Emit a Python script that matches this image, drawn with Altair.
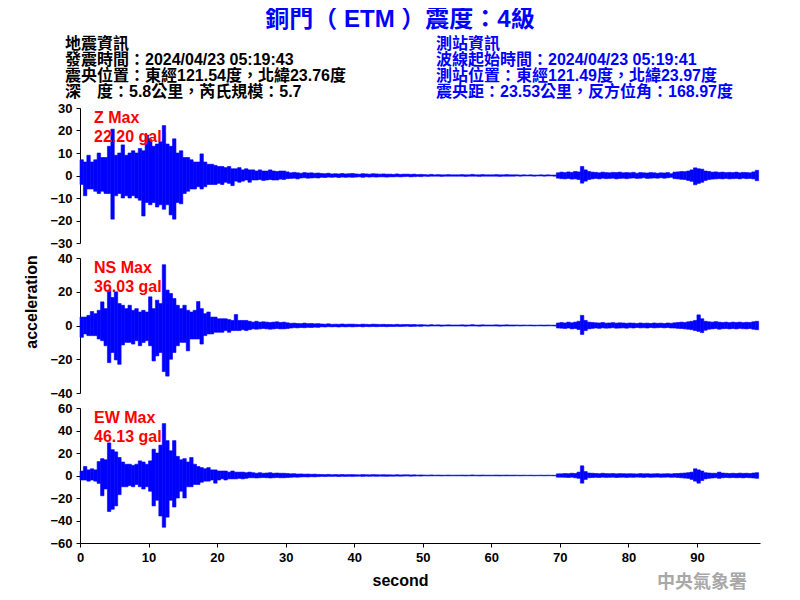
import altair as alt
import pandas as pd

# ---------------- data ----------------
# Envelope of each trace in 0.5 s bins (t = 0.0, 0.5, ... 98.5 s): upper and lower peak in gal
Z_UP = [7, 6, 9, 6, 7, 10, 8, 8, 13, 20.6,
        9, 10, 13.6, 9, 10, 11, 10, 12, 11, 18,
        16, 13, 14, 15, 22.2, 14, 13, 16.3, 10, 11,
        8, 8, 7, 6, 6, 9.6, 6, 5, 5, 4.5,
        4, 4, 3.5, 4, 3, 3, 3.5, 2.5, 3, 2.5,
        2.5, 2, 2.5, 2, 2, 2.5, 2, 1.8, 2, 2,
        1.6, 1.2, 1.4, 1.2, 1, 1.3, 1.1, 1.2, 1, 1.1,
        0.9, 0.8, 1, 0.7, 0.8, 0.7, 0.9, 0.7, 0.8, 0.9,
        0.7, 0.6, 0.8, 0.7, 0.6, 0.8, 0.7, 0.6, 0.7, 0.6,
        0.6, 0.5, 0.7, 0.5, 0.6, 0.6, 0.5, 0.6, 0.4, 0.5,
        0.4, 0.3, 0.5, 0.3, 0.4, 0.3, 0.3, 0.4, 0.3, 0.3,
        0.3, 0.4, 0.3, 0.3, 0.5, 0.3, 0.3, 0.4, 0.3, 0.3,
        0.3, 0.4, 0.3, 0.3, 0.4, 0.3, 0.3, 0.3, 0.2, 0.3,
        0.2, 0.3, 0.2, 0.2, 0.3, 0.2, 0.3, 0.2, 0.2, 1.2,
        1.5, 1.3, 1.6, 1.4, 1.8, 1.6, 4, 2.5, 1.8, 1.5,
        1.4, 1.2, 1.5, 1.3, 1.2, 1.4, 1.3, 1.5, 1.2, 1.3,
        1.2, 1.4, 1, 1.3, 1.2, 1.1, 1.3, 1.2, 1, 1.2,
        1.1, 1.3, 0.8, 1.5, 1.6, 1.8, 1.7, 2, 2.5, 3.4,
        3, 2.8, 2, 1.8, 1.5, 1.6, 1.4, 1.5, 1.3, 1.4,
        1.3, 1.5, 1.2, 1.4, 1.3, 1.2, 1.6, 2.3]
Z_LO = [-4, -9, -6, -6, -7, -8, -7, -8, -8, -19.4,
        -9, -8, -10, -9, -10, -9, -10, -11, -18, -12,
        -13, -12, -14, -13, -15, -13, -17.5, -19.4, -12, -12.6,
        -8, -7, -6, -6, -5, -6, -5, -4, -4, -4,
        -3.5, -4, -3, -3.5, -4.5, -2.5, -3, -2.5, -2, -3,
        -2, -2, -1.8, -2.2, -2, -1.8, -2, -2, -1.6, -1.8,
        -1.4, -1.3, -1.2, -1.5, -1.1, -1, -1.2, -1.1, -1, -1.1,
        -0.8, -0.9, -0.7, -0.8, -0.7, -0.9, -0.7, -0.8, -0.7, -0.8,
        -0.7, -0.6, -0.8, -0.6, -0.7, -0.6, -0.7, -0.6, -0.6, -0.7,
        -0.6, -0.6, -0.5, -0.6, -0.5, -0.4, -0.6, -0.5, -0.4, -0.5,
        -0.3, -0.4, -0.3, -0.3, -0.3, -0.4, -0.3, -0.3, -0.3, -0.3,
        -0.3, -0.3, -0.4, -0.3, -0.3, -0.3, -0.4, -0.3, -0.3, -0.3,
        -0.3, -0.3, -0.4, -0.3, -0.3, -0.3, -0.3, -0.2, -0.3, -0.2,
        -0.2, -0.2, -0.3, -0.2, -0.2, -0.3, -0.2, -0.2, -0.3, -1.2,
        -1.4, -1.5, -1.3, -1.6, -1.5, -1.8, -3.4, -2.5, -1.8, -1.5,
        -1.3, -1.5, -1.2, -1.4, -1.3, -1.2, -1.5, -1.3, -1.2, -1.4,
        -1.2, -1.1, -1.3, -1.2, -1, -1.3, -1.2, -1.1, -1.2, -1,
        -1.2, -1, -0.8, -1.4, -1.5, -1.7, -1.8, -2.2, -2.6, -4.1,
        -3.5, -3, -2.2, -1.8, -1.6, -1.5, -1.4, -1.5, -1.3, -1.5,
        -1.4, -1.3, -1.5, -1.2, -1.4, -1.3, -1.5, -2.3]

NS_UP = [5, 5, 6, 8.3, 7, 9, 14, 10, 21, 16.6,
         20, 13, 12, 10, 12, 9, 10, 8, 9, 8,
         17, 10, 15, 13, 36.03, 21, 19, 16, 12, 10,
         12, 9, 8, 9, 14.2, 10, 7, 8, 5, 5,
         4, 4, 4, 3.5, 3, 6.5, 3, 3, 3, 2.5,
         2, 2.5, 2, 2.2, 2, 1.8, 2, 2.2, 1.8, 2,
         1.6, 1.3, 1.4, 1.2, 1.1, 1.4, 1.1, 1.2, 1, 1.1,
         0.9, 0.8, 1, 0.7, 0.8, 0.7, 0.9, 0.7, 0.8, 0.8,
         0.7, 0.6, 0.8, 0.7, 0.6, 0.8, 0.7, 0.6, 0.7, 0.6,
         0.6, 0.5, 0.7, 0.5, 0.6, 0.6, 0.5, 0.6, 0.4, 0.5,
         0.4, 0.3, 0.5, 0.3, 0.4, 0.3, 0.3, 0.4, 0.3, 0.3,
         0.3, 0.4, 0.3, 0.3, 0.5, 0.3, 0.3, 0.4, 0.3, 0.3,
         0.3, 0.4, 0.3, 0.3, 0.4, 0.3, 0.3, 0.3, 0.2, 0.3,
         0.2, 0.3, 0.2, 0.2, 0.3, 0.2, 0.3, 0.2, 0.2, 1.5,
         1.8, 1.5, 2, 1.6, 2, 2.5, 6, 3, 2, 1.8,
         1.6, 1.5, 1.8, 1.4, 1.5, 1.7, 1.4, 1.6, 1.5, 1.3,
         1.5, 1.4, 1.2, 1.5, 1.3, 1.4, 1.2, 1.5, 1.3, 1.4,
         1.2, 1.5, 1.3, 1.6, 1.8, 2, 1.8, 2.2, 2.5, 3,
         6.3, 4, 2.5, 2.2, 2, 2.3, 2, 1.8, 2, 1.7,
         2, 1.8, 2, 1.7, 1.9, 1.8, 2.2, 2.5]
NS_LO = [-7, -5, -6, -6, -6, -8, -9, -12, -22, -16,
         -20.4, -23, -11.5, -10, -10, -11, -9, -12, -10, -9,
         -12, -21, -18, -16, -27.3, -30, -20, -16, -12, -10,
         -10, -15, -8, -8, -8, -11, -6, -5, -5, -4,
         -4, -4, -3, -4, -3, -3, -3, -2.5, -3, -2.5,
         -2, -2.2, -2, -1.8, -2, -2.2, -2, -1.8, -2, -2,
         -1.8, -1.5, -1.3, -1.4, -1.2, -1.3, -1.1, -1.2, -1, -1.1,
         -0.8, -0.9, -0.7, -0.8, -0.7, -0.9, -0.7, -0.8, -0.7, -0.8,
         -0.7, -0.6, -0.8, -0.6, -0.7, -0.6, -0.7, -0.6, -0.6, -0.7,
         -0.6, -0.6, -0.5, -0.6, -0.5, -0.4, -0.6, -0.5, -0.4, -0.5,
         -0.3, -0.4, -0.3, -0.3, -0.3, -0.4, -0.3, -0.3, -0.3, -0.3,
         -0.3, -0.3, -0.4, -0.3, -0.3, -0.3, -0.4, -0.3, -0.3, -0.3,
         -0.3, -0.3, -0.4, -0.3, -0.3, -0.3, -0.3, -0.2, -0.3, -0.2,
         -0.2, -0.2, -0.3, -0.2, -0.2, -0.3, -0.2, -0.2, -0.3, -1.5,
         -1.6, -1.8, -1.5, -2, -1.8, -2.4, -5.3, -3, -2, -1.7,
         -1.5, -1.7, -1.4, -1.6, -1.5, -1.3, -1.6, -1.5, -1.4, -1.6,
         -1.3, -1.5, -1.2, -1.4, -1.3, -1.5, -1.2, -1.4, -1.3, -1.2,
         -1.4, -1.2, -1.5, -1.5, -1.7, -1.8, -2, -2.2, -2.5, -3,
         -3.5, -4.2, -2.8, -2.2, -2, -1.8, -2.2, -1.9, -1.8, -2,
         -1.8, -2, -1.7, -1.9, -2, -1.8, -2.2, -2.5]

EW_UP = [4, 8, 5, 6, 5, 12.4, 15, 14, 29, 23,
         21, 16, 12, 10, 10, 9, 10, 13, 12, 10,
         13, 23.4, 20, 27, 46.13, 31, 22, 31, 17, 14,
         15, 12, 16, 10, 8, 7, 6, 7, 5, 5,
         4, 4, 4, 3, 4, 3, 3, 3, 2.5, 3,
         2.5, 2, 2.5, 2, 2.2, 2.5, 2, 2.2, 2, 2,
         1.8, 1.5, 1.6, 1.3, 1.4, 1.2, 1.3, 1.1, 1.2, 1,
         0.9, 0.8, 1, 0.7, 0.8, 0.7, 0.9, 0.7, 0.8, 0.8,
         0.7, 0.6, 0.8, 0.7, 0.6, 0.8, 0.7, 0.6, 0.7, 0.6,
         0.6, 0.5, 0.7, 0.5, 0.6, 0.6, 0.5, 0.6, 0.4, 0.5,
         0.4, 0.3, 0.5, 0.3, 0.4, 0.3, 0.3, 0.4, 0.3, 0.3,
         0.3, 0.4, 0.3, 0.3, 0.5, 0.3, 0.3, 0.4, 0.3, 0.3,
         0.3, 0.4, 0.3, 0.3, 0.4, 0.3, 0.3, 0.3, 0.2, 0.3,
         0.2, 0.3, 0.2, 0.2, 0.3, 0.2, 0.3, 0.2, 0.2, 1.5,
         1.5, 1.8, 1.6, 2, 1.8, 3, 8.6, 3.5, 2.2, 2,
         1.8, 1.6, 2, 1.7, 1.6, 1.8, 1.5, 1.7, 1.6, 1.5,
         1.6, 1.5, 1.4, 1.7, 1.5, 1.6, 1.4, 1.5, 1.6, 1.4,
         1.5, 1.6, 1.4, 1.7, 1.8, 2, 2.2, 2.5, 3, 6,
         5, 4, 2.5, 2.2, 2, 2, 3, 2.2, 2, 1.8,
         2, 1.8, 2.1, 1.9, 2, 1.8, 2.2, 2.5]
EW_LO = [-4, -4, -5, -4, -5, -7, -18, -12, -32, -30,
         -27, -17, -10, -10, -9, -10, -8, -10, -12, -10,
         -14, -27, -22, -36, -46, -37, -22, -28, -20, -14,
         -20, -10, -10, -8, -8, -6, -5, -5, -4, -6.8,
         -4, -3, -4, -3, -3, -3, -2.5, -3, -2.5, -2,
         -2, -2.2, -2, -1.8, -2, -2.2, -2, -1.8, -2, -2,
         -1.8, -1.6, -1.4, -1.5, -1.3, -1.2, -1.3, -1.1, -1.2, -1,
         -0.8, -0.9, -0.7, -0.8, -0.7, -0.9, -0.7, -0.8, -0.7, -0.8,
         -0.7, -0.6, -0.8, -0.6, -0.7, -0.6, -0.7, -0.6, -0.6, -0.7,
         -0.6, -0.6, -0.5, -0.6, -0.5, -0.4, -0.6, -0.5, -0.4, -0.5,
         -0.3, -0.4, -0.3, -0.3, -0.3, -0.4, -0.3, -0.3, -0.3, -0.3,
         -0.3, -0.3, -0.4, -0.3, -0.3, -0.3, -0.4, -0.3, -0.3, -0.3,
         -0.3, -0.3, -0.4, -0.3, -0.3, -0.3, -0.3, -0.2, -0.3, -0.2,
         -0.2, -0.2, -0.3, -0.2, -0.2, -0.3, -0.2, -0.2, -0.3, -1.5,
         -1.5, -1.6, -1.8, -1.5, -2, -2.5, -6.8, -3.5, -2, -1.8,
         -1.6, -1.8, -1.5, -1.7, -1.6, -1.5, -1.8, -1.6, -1.5, -1.7,
         -1.5, -1.6, -1.4, -1.5, -1.7, -1.4, -1.6, -1.5, -1.4, -1.6,
         -1.5, -1.4, -1.6, -1.5, -1.8, -2, -2.3, -2.5, -3.5, -5,
         -6.8, -4.5, -3, -2.5, -2.2, -2, -2.5, -2, -1.8, -2,
         -1.8, -2, -1.9, -2.1, -1.8, -2, -2.2, -2.5]

BIN_SECONDS = 0.5

Z_TICKS = [-30, -20, -10, 0, 10, 20, 30]
NS_TICKS = [-40, -20, 0, 20, 40]
EW_TICKS = [-60, -40, -20, 0, 20, 40, 60]
X_TICKS = [0, 10, 20, 30, 40, 50, 60, 70, 80, 90]

TITLE = "銅門（ ETM ）震度：4級"
INFO_LEFT = ["地震資訊",
             "發震時間：2024/04/23 05:19:43",
             "震央位置：東經121.54度，北緯23.76度",
             "深　度：5.8公里，芮氏規模：5.7"]
INFO_RIGHT = ["測站資訊",
              "波線起始時間：2024/04/23 05:19:41",
              "測站位置：東經121.49度，北緯23.97度",
              "震央距：23.53公里，反方位角：168.97度"]
MAX_LABELS = [("Z Max", "22.20 gal"), ("NS Max", "36.03 gal"), ("EW Max", "46.13 gal")]
Y_TITLE = "acceleration"
X_TITLE = "second"
AGENCY = "中央氣象署"

# ---------------- layout ----------------
W, H = 680, 435
PANEL_H = 135
PANEL_STEP = 150
FONT = "Liberation Sans, Noto Sans CJK TC"
BLUE = "#0000ff"


def trace(up, lo):
    rows = []
    for i, (u, l) in enumerate(zip(up, lo)):
        rows.append({"t0": i * BIN_SECONDS, "t1": (i + 1) * BIN_SECONDS,
                     "lo": l, "up": u})
    return pd.DataFrame(rows)


x_scale = alt.Scale(domain=[0, 99.2], nice=False, zero=False)
x_axis = alt.Axis(values=X_TICKS, title=X_TITLE, titleX=320, titleY=37,
                  titleBaseline="middle", titleFontSize=16,
                  titleFontWeight="bold", titleFont="Liberation Sans",
                  titleColor="black")


def panel(up, lo, ticks, k):
    lim = ticks[-1]
    top = k * PANEL_STEP
    return alt.Chart(trace(up, lo)).mark_rect(
        color=BLUE, stroke=BLUE, strokeWidth=0.6
    ).encode(
        x=alt.X("t0:Q", scale=x_scale, axis=x_axis),
        x2="t1:Q",
        y=alt.Y("lo:Q",
                scale=alt.Scale(domain=[-lim, lim], range=[top + PANEL_H, top],
                                nice=False, zero=False),
                axis=alt.Axis(orient="left", values=ticks, title=None)),
        y2="up:Q",
    )


one = pd.DataFrame({"k": [0]})


def label(text, x, y, **kw):
    return alt.Chart(one).mark_text(text=text, **kw).encode(
        x=alt.value(x), y=alt.value(y))


layers = [
    panel(Z_UP, Z_LO, Z_TICKS, 0),
    panel(NS_UP, NS_LO, NS_TICKS, 1),
    panel(EW_UP, EW_LO, EW_TICKS, 2),
]

for k, (a, b) in enumerate(MAX_LABELS):
    for j, s in enumerate((a, b)):
        layers.append(label(s, 14, k * PANEL_STEP + 10 + 19 * j, align="left",
                            baseline="middle", fontSize=16, fontWeight="bold",
                            color="#ff0000", font="Liberation Sans"))

layers.append(label(TITLE, 320, -88, align="center", baseline="middle",
                    fontSize=24, fontWeight="bold", color=BLUE, font=FONT))
for j, s in enumerate(INFO_LEFT):
    layers.append(label(s, -15, -64 + 16 * j, align="left", baseline="middle",
                        fontSize=16, fontWeight="bold", color="black", font=FONT))
for j, s in enumerate(INFO_RIGHT):
    layers.append(label(s, 356, -64 + 16 * j, align="left", baseline="middle",
                        fontSize=16, fontWeight="bold", color=BLUE, font=FONT))

layers.append(label(Y_TITLE, -48, 194, align="center", baseline="middle", angle=270,
                    fontSize=16, fontWeight="bold", color="black", font="Liberation Sans"))
layers.append(label(AGENCY, 622, 475, align="center", baseline="middle",
                    fontSize=18, fontWeight="bold", color="#a8a8a8",
                    font="Noto Sans CJK TC"))

chart = alt.layer(*layers).resolve_scale(y="independent").resolve_axis(
    y="independent"
).properties(
    width=W, height=H,
    autosize=alt.AutoSizeParams(type="none"),
    padding={"left": 72, "top": 100, "right": 30, "bottom": 52},
).configure_view(stroke=None).configure_axis(
    grid=False, labelFont="Liberation Sans", labelFontWeight="bold",
    labelFontSize=13, labelColor="black", tickColor="black", domainColor="black",
    tickSize=4, labelPadding=4, labelFlush=False, labelOverlap=False,
    domainWidth=1, tickWidth=1,
)

chart.save("out.html", embed_options={"renderer": "svg", "actions": False})
